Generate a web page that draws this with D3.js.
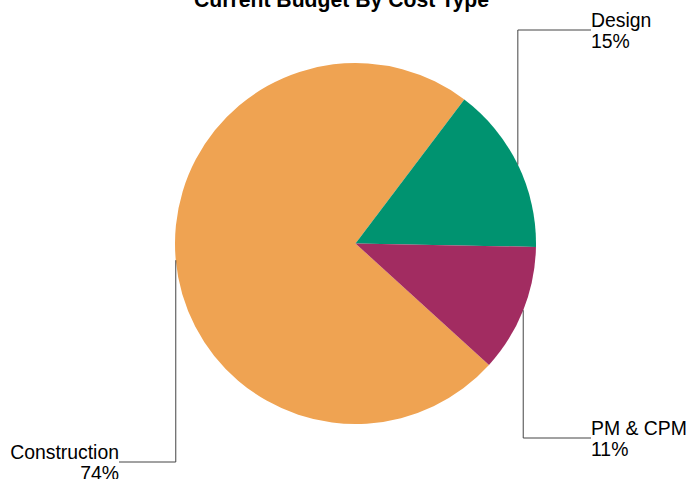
<!DOCTYPE html>
<html>
<head>
<meta charset="utf-8">
<script src="https://cdn.jsdelivr.net/npm/d3@7"></script>
<style>
  html, body { margin: 0; padding: 0; background: #fff; }
  svg { display: block; }
</style>
</head>
<body>
<svg id="chart" width="688" height="479"></svg>
<script>
// ---- data ----
const categories = ["Construction", "Design", "PM & CPM"];
const values = [73.55, 15.0, 11.45];
const colors = ["#EFA352", "#009370", "#A22C61"];
const title = "Current Budget By Cost Type";

// ---- layout ----
const W = 688, H = 479;
const cx = 355.5, cy = 243.5, R = 180.5;
const startDeg = 132.3;
const labelLayout = {
  "Construction": { y: 462, x: 119, side: "left" },
  "Design": { y: 30, x: 591, side: "right" },
  "PM & CPM": { y: 438, x: 591, side: "right" }
};

const svg = d3.select("#chart");
const font = "'Liberation Sans', Arial, Helvetica, sans-serif";

svg.append("text")
  .attr("x", 341.5).attr("y", 7)
  .attr("text-anchor", "middle")
  .attr("font-family", font)
  .attr("font-weight", "bold")
  .attr("font-size", 21.2)
  .attr("fill", "#000")
  .text(title);

const data = categories.map((c, i) => ({ name: c, value: values[i], color: colors[i] }));
const total = d3.sum(values);

const pie = d3.pie().value(d => d.value).sort(null)
  .startAngle(startDeg * Math.PI / 180)
  .endAngle(startDeg * Math.PI / 180 + 2 * Math.PI);
const arcs = pie(data);
const arc = d3.arc().innerRadius(0).outerRadius(R);

const g = svg.append("g").attr("transform", `translate(${cx},${cy})`);
g.selectAll("path").data(arcs).join("path")
  .attr("d", arc)
  .attr("fill", d => d.data.color);

// leader lines + labels
arcs.forEach(a => {
  const mid = (a.startAngle + a.endAngle) / 2;
  const px = cx + R * Math.sin(mid);
  const py = cy - R * Math.cos(mid);
  const L = labelLayout[a.data.name];
  svg.append("path")
    .attr("d", `M${px},${py}L${px},${L.y}L${L.x},${L.y}`)
    .attr("fill", "none")
    .attr("stroke", "#444")
    .attr("stroke-width", 1);
  const anchor = L.side === "left" ? "end" : "start";
  const t = svg.append("text")
    .attr("font-family", font)
    .attr("font-size", 19.4)
    .attr("fill", "#000")
    .attr("text-anchor", anchor);
  t.append("tspan").attr("x", L.x).attr("y", L.y - 3).text(a.data.name);
  t.append("tspan").attr("x", L.x).attr("y", L.y + 17.5)
    .text(Math.round(a.data.value / total * 100) + "%");
});
</script>
</body>
</html>
